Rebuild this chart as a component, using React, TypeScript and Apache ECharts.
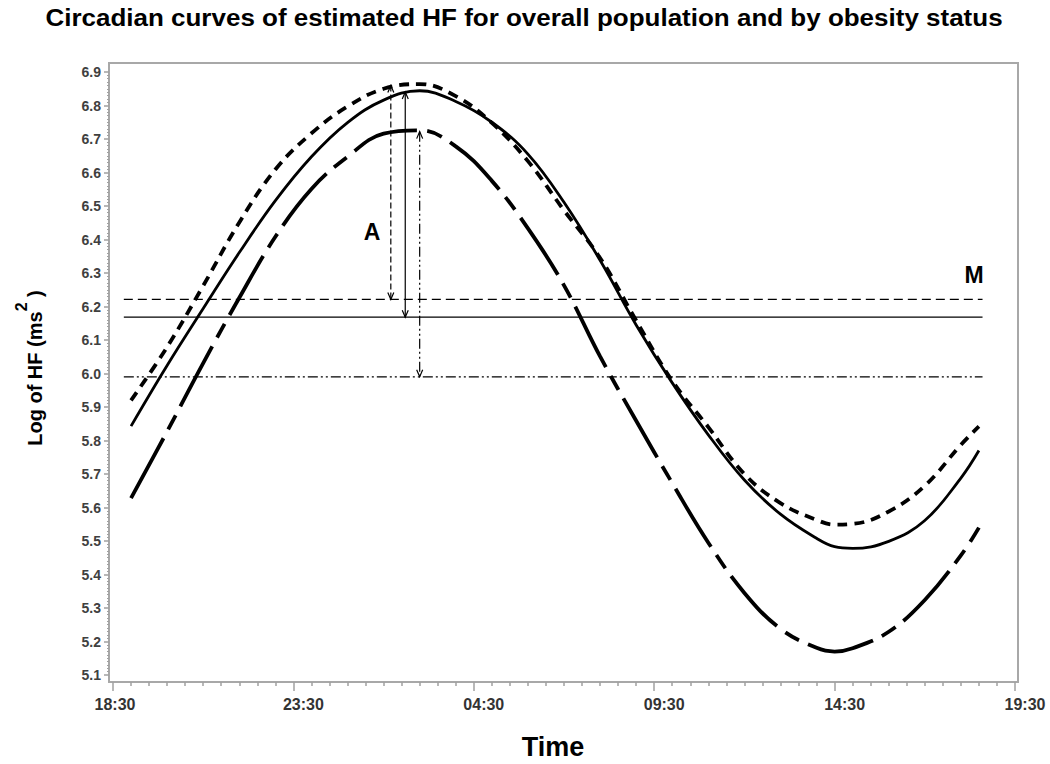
import React, { useEffect, useRef } from "react";
import * as echarts from "echarts";

// time in hours (18.5 = 18:30, 24 = 00:00, 26.5 = 02:30 next day ...)
const TIMES = [19, 20, 21, 22, 23, 24, 25, 26, 27, 28, 29, 30, 31, 32, 33, 34, 35, 36, 37, 38, 38.5, 39, 40, 41, 42, 42.5];
// overall population (solid)
const OVERALL = [5.843, 6.024, 6.194, 6.361, 6.516, 6.647, 6.749, 6.816, 6.844, 6.812, 6.75, 6.655, 6.511, 6.338, 6.145, 5.972, 5.817, 5.682, 5.58, 5.508, 5.483, 5.478, 5.499, 5.561, 5.688, 5.77];
// non-obese (short dashes)
const NON_OBESE = [5.92, 6.079, 6.262, 6.451, 6.609, 6.717, 6.797, 6.85, 6.864, 6.828, 6.748, 6.634, 6.487, 6.345, 6.158, 5.978, 5.84, 5.7, 5.613, 5.563, 5.549, 5.551, 5.588, 5.665, 5.787, 5.842];
// obese (long dashes)
const OBESE = [5.628, 5.827, 6.031, 6.226, 6.408, 6.551, 6.647, 6.716, 6.726, 6.678, 6.575, 6.433, 6.263, 6.051, 5.859, 5.673, 5.495, 5.345, 5.238, 5.181, 5.17, 5.18, 5.229, 5.324, 5.457, 5.54];

// mesors: non-obese, overall, obese
const MESOR = [6.221, 6.168, 5.99];
const MESOR_SPAN = [18.8, 42.6];
// amplitude arrows
const ARROW_TIME = [26.2, 26.6, 27.0];
const ARROW_TOP = [6.86, 6.84, 6.722];

const X_TICKS = ["18:30", "23:30", "04:30", "09:30", "14:30", "19:30"];
const Y_MIN = 5.1;
const Y_MAX = 6.9;

const FONT = "'Liberation Sans', Arial, sans-serif";
const DASHES = [[9, 5], null, [10, 3, 2, 3, 2, 3]];

export default function App() {
  const ref = useRef<HTMLDivElement>(null);
  useEffect(() => {
    if (!ref.current) return;
    const chart = echarts.init(ref.current, null, { renderer: "svg" });
    const pair = (vals: number[]) => TIMES.map((t, i) => [t, vals[i]]);
    const fmtTime = (v: number) => {
      const idx = Math.round((v - 18.5) / 5);
      return X_TICKS[idx] ?? "";
    };
    const mesorSeries = MESOR.map((m, i) => ({
      type: "line",
      name: "mesor" + i,
      data: MESOR_SPAN.map((t) => [t, m]),
      showSymbol: false,
      symbol: "none",
      lineStyle: { color: "#000", width: 1.3, type: DASHES[i] ?? "solid" },
      z: 2,
    }));
    chart.setOption({
      animation: false,
      backgroundColor: "#fff",
      grid: { left: 113, right: 35, top: 72, bottom: 89 },
      xAxis: {
        type: "value",
        min: 18.5,
        max: 43.5,
        interval: 5,
        offset: 7,
        axisLine: { show: false },
        axisTick: { show: true, length: 9, lineStyle: { color: "#a0a0a0", width: 1.5 } },
        minorTick: { show: true, splitNumber: 10, length: 4, lineStyle: { color: "#a0a0a0", width: 1.5 } },
        splitLine: { show: false },
        axisLabel: {
          margin: 14,
          formatter: (v: number) => {
            const s = fmtTime(v);
            return v === 18.5 ? "{f|" + s + "}" : "{n|" + s + "}";
          },
          rich: {
            f: { fontFamily: FONT, fontSize: 16, fontWeight: "bold", color: "#333", padding: [0, 0, 0, 4] },
            n: { fontFamily: FONT, fontSize: 16, fontWeight: "bold", color: "#333", padding: [0, 0, 0, 20] },
          },
        },
      },
      yAxis: {
        type: "value",
        min: Y_MIN,
        max: Y_MAX,
        interval: 0.1,
        offset: 4,
        axisLine: { show: false },
        axisTick: { show: true, length: 5, lineStyle: { color: "#a0a0a0", width: 1.5 } },
        minorTick: { show: true, splitNumber: 10, length: 2, lineStyle: { color: "#a0a0a0", width: 1 } },
        splitLine: { show: false },
        axisLabel: {
          margin: 8,
          fontFamily: FONT,
          fontSize: 14,
          fontWeight: "bold",
          color: "#404040",
          formatter: (v: number) => v.toFixed(1),
        },
      },
      graphic: [
        {
          type: "rect",
          shape: { x: 109, y: 63, width: 909, height: 619 },
          style: { fill: "none", stroke: "#a8a8a8", lineWidth: 2 },
          silent: true,
        },
        {
          type: "text",
          x: 524,
          y: 18,
          scaleX: 1.13,
          style: {
            text: "Circadian curves of estimated HF for overall population and by obesity status",
            fontFamily: FONT,
            fontSize: 23,
            fontWeight: "bold",
            fill: "#000",
            align: "center",
            verticalAlign: "middle",
          },
        },
        {
          type: "text",
          x: 29,
          y: 368,
          rotation: Math.PI / 2,
          style: {
            text: "{a|Log of HF (ms}{b|2}{a| )}",
            align: "center",
            verticalAlign: "middle",
            rich: {
              a: { fontFamily: FONT, fontSize: 20, fontWeight: "bold", fill: "#000", verticalAlign: "bottom", lineHeight: 32 },
              b: { fontFamily: FONT, fontSize: 16, fontWeight: "bold", fill: "#000", verticalAlign: "top", lineHeight: 32 },
            },
          },
        },
        {
          type: "text",
          x: 553,
          y: 747,
          style: { text: "Time", fontFamily: FONT, fontSize: 27, fontWeight: "bold", fill: "#000", align: "center", verticalAlign: "middle" },
        },
        {
          type: "text",
          x: 372,
          y: 232,
          style: { text: "A", fontFamily: FONT, fontSize: 23, fontWeight: "bold", fill: "#000", align: "center", verticalAlign: "middle" },
        },
        {
          type: "text",
          x: 974,
          y: 275,
          style: { text: "M", fontFamily: FONT, fontSize: 23, fontWeight: "bold", fill: "#000", align: "center", verticalAlign: "middle" },
        },
      ],
      series: [
        ...mesorSeries,
        {
          type: "custom",
          name: "amplitude",
          data: ARROW_TIME.map((t, i) => [t, ARROW_TOP[i], MESOR[i], i]),
          encode: { x: 0, y: [1, 2] },
          z: 3,
          renderItem: (params: any, api: any) => {
            const t = api.value(0);
            const top = api.value(1);
            const bot = api.value(2);
            const k = api.value(3);
            const p1 = api.coord([t, top]);
            const p2 = api.coord([t, bot]);
            const dash = DASHES[k] || null;
            const st = { stroke: "#000", lineWidth: 1.2, fill: "none" };
            return {
              type: "group",
              children: [
                {
                  type: "line",
                  shape: { x1: p1[0], y1: p1[1], x2: p2[0], y2: p2[1] },
                  style: dash ? { ...st, lineDash: k === 0 ? [6, 3] : dash } : st,
                },
                {
                  type: "polyline",
                  shape: { points: [[p1[0] - 3, p1[1] + 7], [p1[0], p1[1]], [p1[0] + 3, p1[1] + 7]] },
                  style: st,
                },
                {
                  type: "polyline",
                  shape: { points: [[p2[0] - 3, p2[1] - 7], [p2[0], p2[1]], [p2[0] + 3, p2[1] - 7]] },
                  style: st,
                },
              ],
            };
          },
        },
        {
          type: "line",
          name: "Non-obese",
          data: pair(NON_OBESE),
          smooth: 0.4,
          showSymbol: false,
          symbol: "none",
          lineStyle: { color: "#000", width: 3.8, type: [10, 7], cap: "butt" },
          z: 4,
        },
        {
          type: "line",
          name: "Overall",
          data: pair(OVERALL),
          smooth: 0.4,
          showSymbol: false,
          symbol: "none",
          lineStyle: { color: "#000", width: 2.8 },
          z: 4,
        },
        {
          type: "line",
          name: "Obese",
          data: pair(OBESE),
          smooth: 0.4,
          showSymbol: false,
          symbol: "none",
          lineStyle: { color: "#000", width: 3.8, type: [68, 10, 16, 10], cap: "butt" },
          z: 4,
        },
      ],
    });
    return () => chart.dispose();
  }, []);
  return (
    <div
      ref={ref}
      style={{ position: "fixed", left: 0, top: 0, width: 1050, height: 764, background: "#fff" }}
    />
  );
}
